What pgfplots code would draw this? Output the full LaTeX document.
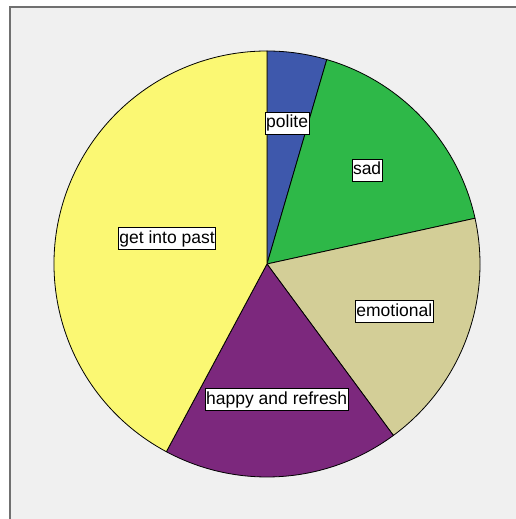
\documentclass[border=0pt]{standalone}
\usepackage{pgfplots}
\pgfplotsset{compat=1.18}
\usetikzlibrary{calc}
\usepackage{fontspec}
\setmainfont{Liberation Sans}

\definecolor{cPolite}{HTML}{3E58AC}
\definecolor{cSad}{HTML}{2EB848}
\definecolor{cEmo}{HTML}{D3CE97}
\definecolor{cHappy}{HTML}{7C287D}
\definecolor{cPast}{HTML}{FBF873}
\definecolor{panel}{HTML}{F0F0F0}
\definecolor{frame}{HTML}{707070}

% slice sizes in degrees, clockwise from the top; label distance from centre
\def\slices{16.3/cPolite/polite/142, 61.3/cSad/sad/137, 66.0/cEmo/emotional/136,
  64.6/cHappy/happy and refresh/136, 151.8/cPast/get into past/103}

\begin{document}
\begin{tikzpicture}[x=1pt,y=1pt]
\clip (0,0) rectangle (516,519);
\fill[white] (0,0) rectangle (516,519);
\fill[panel] (10,-10) rectangle (530,512);
\draw[frame, line width=1.6pt] (10,-10) -- (10,512) -- (530,512);
\begin{axis}[
    at={(0,0)}, anchor=south west,
    width=516pt, height=519pt, scale only axis,
    xmin=0, xmax=516, ymin=0, ymax=519,
    hide axis, clip=false,
]
\pgfplotsextra{
  \def\a{90}
  \foreach \v/\c/\t/\lr in \slices {
    \pgfmathsetmacro{\b}{\a-\v}
    \filldraw[fill=\c, draw=black, line width=0.8pt, line join=round]
      (axis cs:267,255) -- ++(\a:213) arc[start angle=\a, end angle=\b, radius=213] -- cycle;
    \xdef\a{\b}
  }
  \def\a{90}
  \foreach \v/\c/\t/\lr in \slices {
    \pgfmathsetmacro{\b}{\a-\v}
    \pgfmathsetmacro{\m}{\a-\v/2}
    \node[draw=black, fill=white, line width=0.9pt, inner xsep=1pt, inner ysep=2.5pt,
          text height=13pt, text depth=4pt, font=\fontsize{17.5}{20}\selectfont]
      at ($(axis cs:267,255)+(\m:\lr)$) {\t};
    \xdef\a{\b}
  }
}
\end{axis}
\end{tikzpicture}
\end{document}
